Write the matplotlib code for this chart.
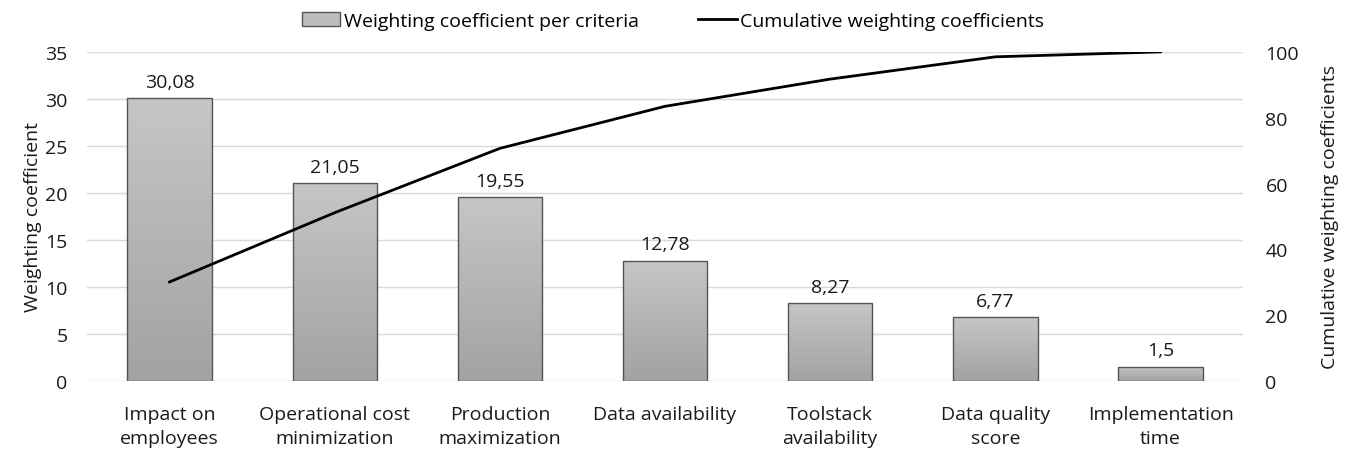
import numpy as np
import matplotlib
matplotlib.use("Agg")
import matplotlib.pyplot as plt
from matplotlib.patches import Patch
from matplotlib.lines import Line2D

plt.rcParams['font.family'] = ['Open Sans', 'DejaVu Sans']

categories = ["Impact on\nemployees", "Operational cost\nminimization", "Production\nmaximization",
              "Data availability", "Toolstack\navailability", "Data quality\nscore", "Implementation\ntime"]
weights = [30.08, 21.05, 19.55, 12.78, 8.27, 6.77, 1.5]
cumulative = [30.08, 51.13, 70.68, 83.46, 91.73, 98.50, 100.0]

FS = 14
TXT = "#1a1a1a"
fig = plt.figure(figsize=(13.46, 4.52), dpi=100)
ax = fig.add_axes([0.0646, 0.155, 0.859, 0.728])
x = np.arange(len(categories))

bars = ax.bar(x, weights, width=0.51, facecolor="none", edgecolor="#555555", linewidth=1.0, zorder=3)
# vertical gradient fill, clipped to each bar
grad = np.linspace(0, 1, 256).reshape(-1, 1)
cmap = matplotlib.colors.LinearSegmentedColormap.from_list("g", ["#a2a2a2", "#c6c6c6"])
for b in bars:
    x0, y0 = b.get_x(), b.get_y()
    w, h = b.get_width(), b.get_height()
    im = ax.imshow(grad, extent=[x0, x0 + w, y0, y0 + h], origin="lower", aspect="auto",
                   cmap=cmap, zorder=2)
    im.set_clip_path(b)

for xi, v in zip(x, weights):
    ax.text(xi, v + 0.8, f"{v:g}".replace(".", ","), ha="center", va="bottom", fontsize=FS, color=TXT)

ax.set_xlim(-0.5, len(categories) - 0.5)
ax.set_ylim(0, 35)
ax.set_yticks(range(0, 36, 5))
ax.set_xticks(x)
ax.set_xticklabels(categories, fontsize=FS, color=TXT, linespacing=1.45, va="top")
ax.tick_params(axis="both", length=0, labelsize=FS, colors=TXT)
ax.tick_params(axis="y", pad=14)
ax.tick_params(axis="x", pad=17)
ax.grid(axis="y", color="#d9d9d9", linewidth=1.0, zorder=0)
ax.set_axisbelow(True)
for s in ax.spines.values():
    s.set_visible(False)
ax.set_ylabel("Weighting coefficient", fontsize=FS, color=TXT, labelpad=2)

ax2 = ax.twinx()
ax2.plot(x, cumulative, color="#000000", linewidth=2.0, zorder=5)
ax2.set_ylim(0, 100)
ax2.set_yticks(range(0, 101, 20))
ax2.tick_params(axis="y", length=0, labelsize=FS, colors=TXT, pad=16)
for s in ax2.spines.values():
    s.set_visible(False)
ax2.set_ylabel("Cumulative weighting coefficients", fontsize=FS, color=TXT, labelpad=16)

handles = [Patch(facecolor="#bdbdbd", edgecolor="#555555", label="Weighting coefficient per criteria"),
           Line2D([0], [0], color="black", linewidth=2, label="Cumulative weighting coefficients")]
fig.legend(handles=handles, loc="upper center", bbox_to_anchor=(0.5, 1.01), ncol=2, frameon=False,
           fontsize=FS, handlelength=2.0, handletextpad=0.2, columnspacing=3.0)

fig.savefig("out.png", dpi=100)
